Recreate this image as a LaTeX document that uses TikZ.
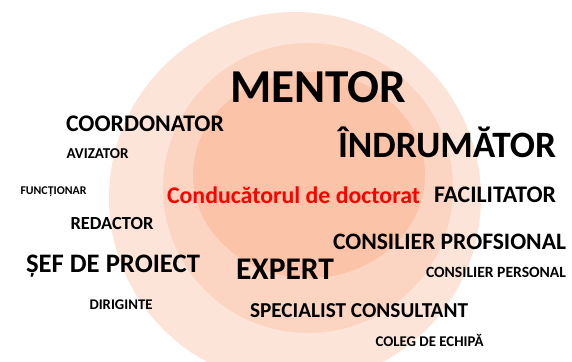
\documentclass[tikz,border=0pt]{standalone}
\usepackage{fontspec}
\setmainfont{Carlito}
\definecolor{ringA}{RGB}{253,228,217}
\definecolor{ringB}{RGB}{252,212,194}
\definecolor{ringC}{RGB}{251,195,168}
\newlength\fitlen
\newcommand\fitw[2]{\settowidth\fitlen{\fontsize{10}{12}\selectfont\bfseries #2}%
  \pgfmathsetmacro\fitfs{10*#1/\fitlen}%
  \fontsize{\fitfs}{\fitfs}\selectfont\bfseries #2}
\tikzset{word/.style={anchor=base, inner sep=0pt, text=black},
         lead/.style={word, text=red}}
\begin{document}
\begin{tikzpicture}[x=1pt,y=-1pt]
\useasboundingbox (0,0) rectangle (572,361);
\begin{scope}
\clip (0,0) rectangle (572,361);
\fill[ringA] (295,198) circle[radius=186pt];
\fill[ringB] (308,188) circle[radius=145pt];
\fill[ringC] (309,175) ellipse[x radius=116pt, y radius=103pt];
\end{scope}
\node[word] (mentor) at (318,102) {\fitw{176}{MENTOR}};
\node[word] (indr) at (447,157) {\fitw{218}{ÎNDRUMĂTOR}};
\node[word] (coord) at (145,131) {\fitw{158}{COORDONATOR}};
\node[word] (aviz) at (97.5,158) {\fitw{62}{AVIZATOR}};
\node[word] (func) at (53.5,194) {\fitw{66}{FUNCȚIONAR}};
\node[word] (red) at (112,229) {\fitw{83}{REDACTOR}};
\node[word] (sef) at (113,272) {\fitw{174}{ȘEF DE PROIECT}};
\node[word] (dir) at (121,309) {\fitw{63}{DIRIGINTE}};
\node[lead] (cond) at (293.5,203) {\fitw{253}{Conducătorul de doctorat}};
\node[word] (fac) at (495,202) {\fitw{122}{FACILITATOR}};
\node[word] (cprof) at (449.5,249) {\fitw{233}{CONSILIER PROFSIONAL}};
\node[word] (cpers) at (496,277) {\fitw{140}{CONSILIER PERSONAL}};
\node[word] (exp) at (285,279) {\fitw{98}{EXPERT}};
\node[word] (spec) at (359,317) {\fitw{218}{SPECIALIST CONSULTANT}};
\node[word] (coleg) at (429.5,346) {\fitw{108}{COLEG DE ECHIPĂ}};
\end{tikzpicture}
\end{document}
